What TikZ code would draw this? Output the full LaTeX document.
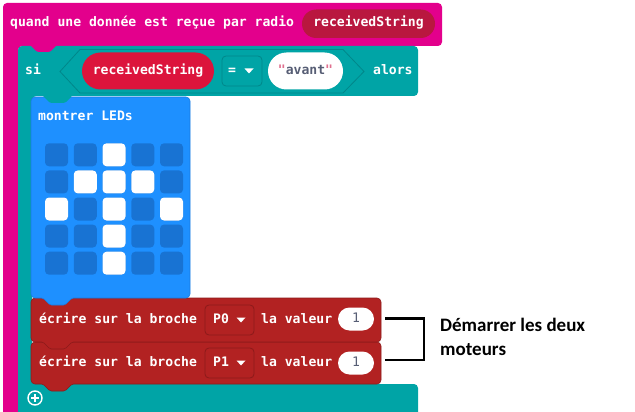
\documentclass[tikz,border=0pt]{standalone}
\usepackage{fontspec}
\newfontfamily\blkfont{DejaVu Sans Mono}
\newfontfamily\notefont{Carlito}
\definecolor{radiopink}{HTML}{E3008C}
\definecolor{argcrimson}{HTML}{B9173F}
\definecolor{logicteal}{HTML}{00A4A6}
\definecolor{logicdark}{HTML}{00878A}
\definecolor{varred}{HTML}{DC143C}
\definecolor{basicblue}{HTML}{1E90FF}
\definecolor{bluedark}{HTML}{1A7BE0}
\definecolor{ledoff}{HTML}{1873D3}
\definecolor{pinred}{HTML}{B22222}
\definecolor{pindark}{HTML}{8C1A1A}
\definecolor{strgray}{HTML}{575E75}
\definecolor{quotepink}{HTML}{E0708F}
\begin{document}
\begin{tikzpicture}[x=1pt,y=-1pt,
  blk/.style={font=\blkfont\bfseries\fontsize{13.1}{15}\selectfont, text=white, inner sep=0pt, text height=7pt, text depth=0pt},
  note/.style={font=\notefont\bfseries\fontsize{19}{24}\selectfont, text=black, inner sep=0pt, align=left},
  pill/.style={rounded corners=#1},
  bracket/.style={draw=black, line width=2.5pt},
  ddbox/.style={rounded corners=4pt, line width=0.8pt},
]
\useasboundingbox (0,0) rectangle (635,412);
\begin{scope}
\clip (0,0) rectangle (635,412);
% ---- pink event block
\fill[radiopink, rounded corners=4pt] (3,3) -- (442,3) -- (442,46) -- (18,46) -- (18,430) -- (3,430) -- cycle;
% ---- teal if block
\fill[logicteal, rounded corners=4pt] (18,46) -- (418,46) -- (418,96) -- (32,96) -- (32,384) -- (418,384) -- (418,430) -- (18,430) -- cycle;
% pink tab into teal
\fill[radiopink, rounded corners=1.5pt] (30,44) -- (30,45) -- (37,52) -- (50,52) -- (57,45) -- (57,44) -- cycle;
% ---- red block 2
\filldraw[fill=pinred, draw=pindark, line width=0.6pt, rounded corners=4pt]
  (31,342) -- (381,342) -- (381,384) [rounded corners=1.5pt] -- (72,384) -- (65,391) -- (50,391) -- (43,384) [rounded corners=4pt] -- (31,384) -- cycle;
% ---- red block 1
\filldraw[fill=pinred, draw=pindark, line width=0.6pt, rounded corners=4pt]
  (31,298) -- (381,298) -- (381,342) [rounded corners=1.5pt] -- (72,342) -- (65,349) -- (50,349) -- (43,342) [rounded corners=4pt] -- (31,342) -- cycle;
% ---- blue block
\filldraw[fill=basicblue, draw=bluedark, line width=0.6pt, rounded corners=4pt]
  (31,97) -- (190,97) -- (190,298) [rounded corners=1.5pt] -- (72,298) -- (65,305) -- (50,305) -- (43,298) [rounded corners=4pt] -- (31,298) -- cycle;
% teal tab into blue
\fill[logicteal, rounded corners=1.5pt] (43,95) -- (43,96) -- (50,103) -- (65,103) -- (72,96) -- (72,95) -- cycle;
\end{scope}

% ---- header texts
\node[blk, anchor=west] (evt) at (10,23) {quand une donnée est reçue par radio};
\fill[argcrimson, pill=14.25pt] (302,9.5) rectangle (435,38);
\node[blk] (evtarg) at (368.5,23.5) {receivedString};

% ---- if header
\node[blk, anchor=west] (si) at (25,71) {si};
\filldraw[fill=logicteal, draw=logicdark, line width=0.8pt]
  (60,71.5) -- (80,49.5) -- (343,49.5) -- (364,71.5) -- (343,93) -- (80,93) -- cycle;
\fill[varred, pill=18.5pt] (82,52.5) rectangle (214,89.5);
\node[blk] (var) at (148,71) {receivedString};
\filldraw[fill=logicteal, draw=logicdark, ddbox] (222,56) rectangle (262,86);
\node[blk] (eq) at (232,71) {=};
\fill[white] (244.5,68.5) -- (253.5,68.5) -- (249,73.5) -- cycle;
\fill[white, pill=18.5pt] (268,52.5) rectangle (343,89.5);
\node[blk, text=strgray] (str) at (305.5,71) {\textcolor{quotepink}{"}avant\textcolor{quotepink}{"}};
\node[blk, anchor=west] (alors) at (373,71) {alors};

% ---- show leds
\node[blk, anchor=west] (leds) at (38,117) {montrer LEDs};
\foreach \c in {0,...,4}{
  \foreach \r in {0,...,4}{
    \fill[ledoff, rounded corners=4pt] ({45+28.75*\c},{143.3+27.1*\r}) rectangle ++(23,23);
  }
}
\foreach \c/\r in {2/0,1/1,2/1,3/1,0/2,2/2,4/2,2/3,2/4}{
  \fill[white, rounded corners=4pt] ({45+28.75*\c},{143.3+27.1*\r}) rectangle ++(23,23);
}

% ---- digital write blocks
\node[blk, anchor=west] (w1) at (39,320) {écrire sur la broche};
\filldraw[fill=pinred, draw=pindark, ddbox] (205,305) rectangle (254,335);
\node[blk, anchor=west] (p0) at (213,320) {P0};
\fill[white] (236.5,317.5) -- (245.5,317.5) -- (241,322.5) -- cycle;
\node[blk, anchor=west] (v1) at (261,320) {la valeur};
\fill[white, pill=11.5pt] (338,307.5) rectangle (374,330.5);
\node[blk, text=strgray, font=\blkfont\fontsize{13.1}{15}\selectfont] (n1) at (356,319) {1};

\node[blk, anchor=west] (w2) at (39,363) {écrire sur la broche};
\filldraw[fill=pinred, draw=pindark, ddbox] (205,348) rectangle (254,378);
\node[blk, anchor=west] (p1) at (213,363) {P1};
\fill[white] (236.5,360.5) -- (245.5,360.5) -- (241,365.5) -- cycle;
\node[blk, anchor=west] (v2) at (261,363) {la valeur};
\fill[white, pill=11.5pt] (338,351.5) rectangle (374,374.5);
\node[blk, text=strgray, font=\blkfont\fontsize{13.1}{15}\selectfont] (n2) at (356,363) {1};

% ---- add button
\draw[white, line width=1.4pt] (35,398) circle (7);
\draw[white, line width=2pt] (31,398) -- (39,398) (35,394) -- (35,402);

% ---- bracket and note
\coordinate (b1) at (385,318.5);
\coordinate (b2) at (385,360);
\coordinate (bx) at (424,339);
\draw[bracket] (b1) -| (bx) |- (b2);
\node[note, anchor=north west] (lbl) at (440,318) {Démarrer les deux\\moteurs};
\end{tikzpicture}
\end{document}
